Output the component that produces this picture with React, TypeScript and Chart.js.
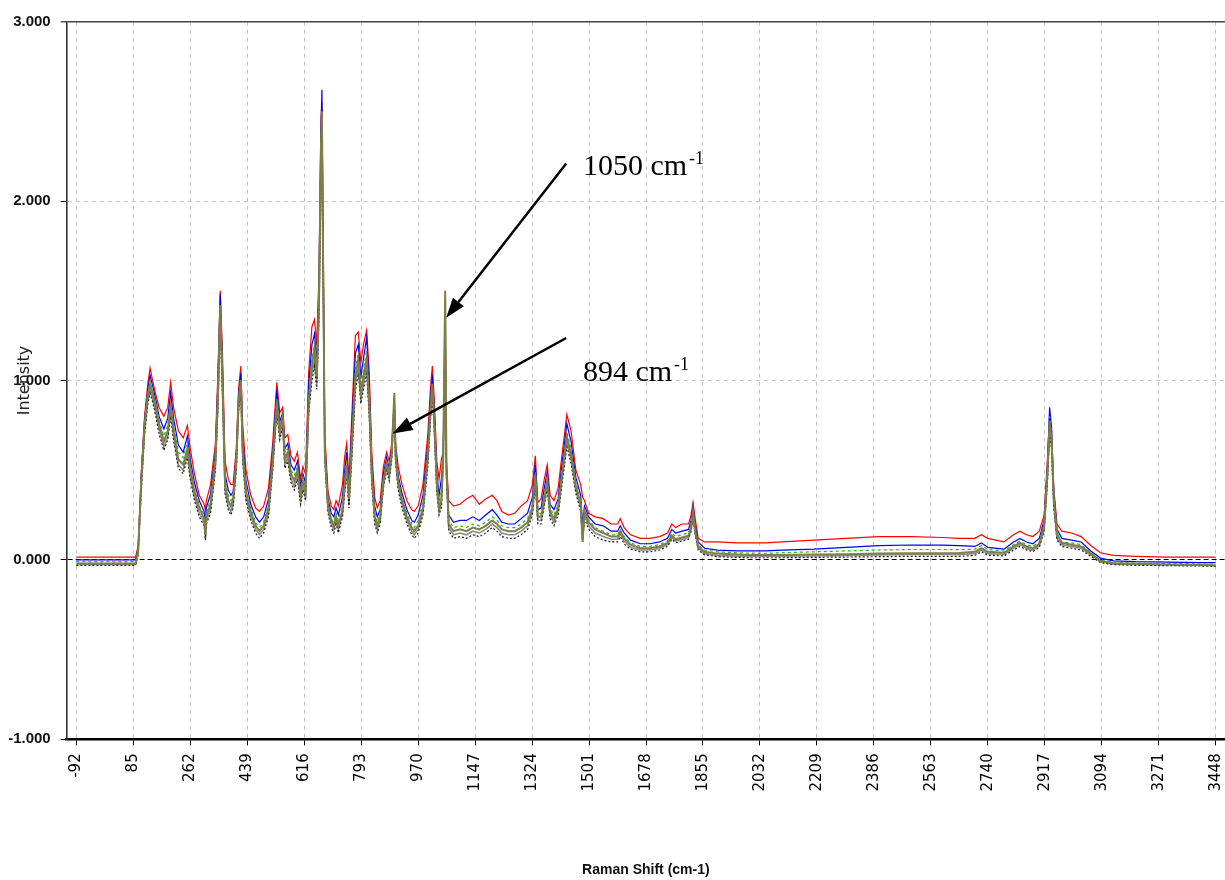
import React, { useEffect, useRef } from "react";
import { Chart, registerables } from "chart.js";

Chart.register(...registerables);

// Raman shift positions (cm-1) shared by all spectra
const SHIFT = [
  -92, 80, 92, 100, 110, 120, 130, 137, 145, 155,
  165, 180, 192, 201, 210, 225, 240, 253, 262, 275,
  290, 305, 309, 312, 325, 340, 348, 355, 362, 370,
  380, 388, 395, 405, 412, 419, 425, 435, 450, 465,
  477, 490, 505, 518, 531, 540, 549, 556, 565, 575,
  585, 595, 605, 612, 620, 630, 640, 648, 655, 662,
  668, 671, 675, 680, 690, 700, 708, 715, 722, 735,
  742, 748, 755, 765, 775, 784, 792, 800, 810, 818,
  826, 835, 843, 852, 862, 872, 880, 888, 896, 900,
  908, 920, 935, 950, 958, 970, 985, 1000, 1008, 1014,
  1020, 1028, 1035, 1042, 1048, 1054, 1058, 1065, 1080, 1100,
  1120, 1140, 1160, 1180, 1200, 1215, 1230, 1250, 1270, 1290,
  1310, 1325, 1334, 1342, 1352, 1362, 1371, 1380, 1392, 1405,
  1418, 1432, 1445, 1460, 1475, 1481, 1487, 1500, 1520, 1545,
  1570, 1590, 1598, 1610, 1630, 1660, 1690, 1720, 1745, 1758,
  1770, 1790, 1810, 1818, 1824, 1830, 1840, 1860, 1900, 1960,
  2000, 2050, 2100, 2200, 2300, 2400, 2500, 2600, 2650, 2700,
  2720, 2740, 2790, 2820, 2840, 2860, 2880, 2900, 2915, 2925,
  2932, 2938, 2945, 2955, 2970, 3000, 3030, 3060, 3090, 3130,
  3200, 3300, 3400, 3448,
];

const OLIVE = [
  -0.02, -0.02, -0.02, 0.05, 0.45, 0.75, 0.92, 0.98, 0.93, 0.85,
  0.76, 0.66, 0.72, 0.86, 0.72, 0.56, 0.53, 0.62, 0.5, 0.38,
  0.29, 0.23, 0.14, 0.24, 0.31, 0.55, 0.92, 1.42, 1.0, 0.42,
  0.33, 0.3, 0.34, 0.55, 0.88, 1.0, 0.6, 0.38, 0.27, 0.19,
  0.16, 0.19, 0.29, 0.55, 0.88, 0.72, 0.8, 0.56, 0.6, 0.48,
  0.44, 0.5, 0.36, 0.44, 0.38, 0.88, 1.08, 1.18, 1.02, 1.45,
  2.3, 2.5, 1.6, 0.6, 0.3, 0.22, 0.19, 0.24, 0.19, 0.28,
  0.43, 0.53, 0.34, 0.68, 1.02, 1.12, 0.94, 1.02, 1.12, 0.88,
  0.48, 0.24, 0.19, 0.24, 0.44, 0.54, 0.48, 0.6, 0.93, 0.58,
  0.43, 0.33, 0.24, 0.18, 0.16, 0.19, 0.29, 0.58, 0.83, 0.98,
  0.78, 0.43, 0.29, 0.33, 0.58, 1.5, 0.5, 0.2, 0.16, 0.17,
  0.16, 0.18, 0.17, 0.19, 0.22, 0.2, 0.17, 0.16, 0.16, 0.18,
  0.21, 0.29, 0.47, 0.24, 0.24, 0.34, 0.44, 0.27, 0.23, 0.29,
  0.49, 0.69, 0.59, 0.41, 0.31, 0.1, 0.27, 0.21, 0.17, 0.15,
  0.13, 0.13, 0.16, 0.12, 0.085, 0.065, 0.065, 0.075, 0.095, 0.135,
  0.115, 0.125, 0.135, 0.18, 0.27, 0.17, 0.075, 0.045, 0.035, 0.03,
  0.028, 0.027, 0.028, 0.03, 0.032, 0.036, 0.037, 0.037, 0.038, 0.045,
  0.065, 0.045, 0.04, 0.075, 0.095, 0.075, 0.065, 0.09, 0.19, 0.48,
  0.76, 0.68, 0.34, 0.14, 0.095, 0.085, 0.075, 0.035, -0.005, -0.018,
  -0.022, -0.025, -0.028, -0.03,
];

const RED = [
  0.015, 0.015, 0.015, 0.08, 0.5, 0.8, 0.98, 1.07, 1.0, 0.92,
  0.85, 0.8, 0.85, 0.99, 0.85, 0.72, 0.68, 0.75, 0.62, 0.48,
  0.36, 0.31, 0.28, 0.33, 0.42, 0.65, 1.05, 1.5, 1.15, 0.55,
  0.45, 0.42, 0.42, 0.62, 0.95, 1.08, 0.75, 0.5, 0.36, 0.29,
  0.27, 0.3, 0.4, 0.65, 0.99, 0.82, 0.85, 0.68, 0.7, 0.58,
  0.55, 0.6, 0.45, 0.52, 0.48, 1.05, 1.3, 1.34, 1.2, 1.6,
  2.45, 2.55, 1.8, 0.7, 0.38, 0.3, 0.28, 0.33, 0.3, 0.42,
  0.58, 0.65, 0.45, 0.85, 1.25, 1.27, 1.1, 1.2, 1.28, 1.05,
  0.6, 0.35, 0.29, 0.33, 0.52, 0.6, 0.55, 0.65, 0.88, 0.65,
  0.52, 0.42, 0.33, 0.28, 0.27, 0.3, 0.42, 0.7, 0.95, 1.08,
  0.9, 0.55, 0.45, 0.56, 0.6, 1.2, 0.55, 0.33, 0.3, 0.31,
  0.34, 0.36, 0.31, 0.34, 0.36, 0.33, 0.27, 0.25, 0.26, 0.3,
  0.33, 0.42, 0.58, 0.32, 0.34, 0.45, 0.53, 0.36, 0.33, 0.4,
  0.6, 0.81, 0.72, 0.5, 0.42, 0.35, 0.33, 0.26, 0.24, 0.23,
  0.2, 0.2, 0.23, 0.18, 0.14, 0.12, 0.12, 0.13, 0.15, 0.2,
  0.18, 0.2, 0.2, 0.25, 0.32, 0.24, 0.12, 0.1, 0.1, 0.095,
  0.095, 0.095, 0.1, 0.11, 0.12, 0.13, 0.13, 0.125, 0.12, 0.12,
  0.14, 0.12, 0.1, 0.14, 0.16, 0.14, 0.13, 0.16, 0.25, 0.55,
  0.8, 0.72, 0.4, 0.2, 0.16, 0.15, 0.13, 0.08, 0.04, 0.025,
  0.02, 0.015, 0.015, 0.015,
];

const BLUE = [
  0.0, 0.0, 0.0, 0.06, 0.48, 0.78, 0.95, 1.03, 0.97, 0.89,
  0.8, 0.73, 0.79, 0.93, 0.79, 0.64, 0.6, 0.69, 0.56, 0.43,
  0.33, 0.27, 0.2, 0.29, 0.37, 0.6, 1.0, 1.48, 1.08, 0.48,
  0.39, 0.36, 0.38, 0.58, 0.92, 1.04, 0.68, 0.44, 0.31, 0.24,
  0.21, 0.24, 0.34, 0.6, 0.95, 0.77, 0.82, 0.62, 0.65, 0.53,
  0.5, 0.55, 0.41, 0.48, 0.43, 0.98, 1.2, 1.26, 1.1, 1.55,
  2.4, 2.62, 1.7, 0.65, 0.34, 0.26, 0.24, 0.29, 0.25, 0.35,
  0.5, 0.6, 0.4, 0.78, 1.15, 1.2, 1.02, 1.12, 1.24, 0.97,
  0.54, 0.3, 0.24, 0.28, 0.48, 0.57, 0.51, 0.62, 0.9, 0.62,
  0.47, 0.37, 0.28, 0.22, 0.21, 0.25, 0.36, 0.64, 0.89, 1.03,
  0.84, 0.49, 0.36, 0.45, 0.59, 1.35, 0.52, 0.25, 0.21, 0.22,
  0.22, 0.24, 0.22, 0.25, 0.28, 0.25, 0.21, 0.2, 0.2, 0.23,
  0.26, 0.35, 0.53, 0.28, 0.29, 0.4, 0.49, 0.31, 0.28, 0.34,
  0.55, 0.76, 0.66, 0.46, 0.36, 0.2, 0.3, 0.24, 0.2, 0.19,
  0.16, 0.16, 0.19, 0.15, 0.11, 0.09, 0.09, 0.1, 0.12, 0.17,
  0.15, 0.16, 0.17, 0.22, 0.3, 0.2, 0.1, 0.065, 0.055, 0.05,
  0.05, 0.05, 0.055, 0.06, 0.07, 0.08, 0.083, 0.082, 0.08, 0.075,
  0.095, 0.07, 0.06, 0.1, 0.12, 0.1, 0.09, 0.12, 0.22, 0.52,
  0.85, 0.74, 0.38, 0.17, 0.12, 0.11, 0.1, 0.05, 0.01, -0.005,
  -0.01, -0.012, -0.015, -0.015,
];

const GREEN = [
  -0.01, -0.01, -0.01, 0.05, 0.46, 0.76, 0.93, 1.0, 0.95, 0.87,
  0.78, 0.69, 0.75, 0.88, 0.75, 0.6, 0.57, 0.66, 0.53, 0.4,
  0.3, 0.25, 0.17, 0.26, 0.34, 0.58, 0.95, 1.4, 1.04, 0.45,
  0.36, 0.33, 0.36, 0.56, 0.9, 1.01, 0.64, 0.41, 0.29, 0.21,
  0.18, 0.21, 0.31, 0.57, 0.9, 0.74, 0.8, 0.6, 0.62, 0.5,
  0.47, 0.52, 0.38, 0.46, 0.4, 0.92, 1.12, 1.2, 1.05, 1.5,
  2.35, 2.45, 1.65, 0.62, 0.31, 0.23, 0.21, 0.26, 0.22, 0.31,
  0.46, 0.56, 0.37, 0.72, 1.08, 1.15, 0.96, 1.06, 1.17, 0.92,
  0.5, 0.26, 0.21, 0.26, 0.46, 0.55, 0.49, 0.61, 0.9, 0.6,
  0.45, 0.35, 0.26, 0.2, 0.18, 0.22, 0.32, 0.6, 0.85, 0.99,
  0.8, 0.46, 0.32, 0.38, 0.58, 1.4, 0.5, 0.22, 0.18, 0.19,
  0.18, 0.2, 0.19, 0.21, 0.24, 0.22, 0.19, 0.18, 0.18, 0.2,
  0.23, 0.31, 0.49, 0.26, 0.26, 0.36, 0.46, 0.29, 0.25, 0.31,
  0.51, 0.71, 0.62, 0.43, 0.33, 0.14, 0.28, 0.22, 0.18, 0.16,
  0.14, 0.14, 0.17, 0.13, 0.095, 0.075, 0.075, 0.085, 0.105, 0.15,
  0.13, 0.14, 0.15, 0.2, 0.28, 0.18, 0.085, 0.055, 0.045, 0.04,
  0.038, 0.037, 0.04, 0.045, 0.05, 0.055, 0.058, 0.058, 0.057, 0.06,
  0.08, 0.058, 0.05, 0.085, 0.105, 0.085, 0.075, 0.1, 0.2, 0.5,
  0.8, 0.7, 0.36, 0.15, 0.1, 0.095, 0.085, 0.04, 0.0, -0.012,
  -0.018, -0.02, -0.022, -0.024,
];

const GRAY = [
  -0.025, -0.025, -0.025, 0.04, 0.42, 0.72, 0.89, 0.95, 0.9, 0.82,
  0.73, 0.63, 0.69, 0.83, 0.69, 0.53, 0.5, 0.59, 0.47, 0.35,
  0.26, 0.21, 0.12, 0.22, 0.28, 0.52, 0.88, 1.36, 0.96, 0.39,
  0.3, 0.27, 0.31, 0.52, 0.85, 0.96, 0.57, 0.35, 0.24, 0.17,
  0.14, 0.17, 0.26, 0.52, 0.84, 0.69, 0.76, 0.53, 0.57, 0.45,
  0.41, 0.47, 0.33, 0.41, 0.35, 0.84, 1.04, 1.12, 0.98, 1.4,
  2.2, 2.35, 1.55, 0.57, 0.28, 0.2, 0.17, 0.22, 0.17, 0.26,
  0.4, 0.5, 0.31, 0.64, 0.98, 1.08, 0.9, 0.98, 1.08, 0.84,
  0.45, 0.22, 0.17, 0.22, 0.42, 0.52, 0.46, 0.58, 0.9, 0.56,
  0.41, 0.31, 0.22, 0.16, 0.14, 0.17, 0.27, 0.55, 0.8, 0.95,
  0.75, 0.4, 0.27, 0.31, 0.56, 1.45, 0.48, 0.18, 0.14, 0.15,
  0.14, 0.16, 0.15, 0.17, 0.2, 0.18, 0.15, 0.14, 0.14, 0.16,
  0.19, 0.27, 0.44, 0.22, 0.22, 0.32, 0.42, 0.25, 0.21, 0.27,
  0.46, 0.66, 0.56, 0.39, 0.29, 0.12, 0.25, 0.19, 0.15, 0.13,
  0.115, 0.115, 0.145, 0.105, 0.07, 0.055, 0.055, 0.065, 0.085, 0.125,
  0.105, 0.115, 0.125, 0.17, 0.25, 0.16, 0.065, 0.035, 0.025, 0.02,
  0.02, 0.02, 0.02, 0.022, 0.025, 0.028, 0.03, 0.03, 0.03, 0.035,
  0.055, 0.035, 0.03, 0.065, 0.085, 0.065, 0.055, 0.08, 0.17, 0.45,
  0.72, 0.64, 0.31, 0.12, 0.085, 0.075, 0.065, 0.028, -0.01, -0.022,
  -0.026, -0.028, -0.03, -0.032,
];

const BLACK = [
  -0.03, -0.03, -0.03, 0.03, 0.4, 0.7, 0.87, 0.93, 0.88, 0.8,
  0.7, 0.61, 0.67, 0.8, 0.67, 0.51, 0.48, 0.57, 0.45, 0.33,
  0.24, 0.19, 0.11, 0.2, 0.26, 0.5, 0.85, 1.32, 0.93, 0.37,
  0.28, 0.25, 0.29, 0.5, 0.83, 0.93, 0.55, 0.33, 0.22, 0.15,
  0.12, 0.15, 0.24, 0.5, 0.82, 0.67, 0.74, 0.51, 0.55, 0.43,
  0.39, 0.45, 0.31, 0.39, 0.33, 0.82, 1.0, 1.08, 0.95, 1.35,
  2.1, 2.25, 1.5, 0.55, 0.26, 0.18, 0.15, 0.2, 0.15, 0.24,
  0.38, 0.48, 0.29, 0.6, 0.94, 1.04, 0.87, 0.95, 1.04, 0.8,
  0.42, 0.2, 0.15, 0.2, 0.4, 0.5, 0.44, 0.56, 0.88, 0.54,
  0.39, 0.29, 0.2, 0.14, 0.12, 0.15, 0.25, 0.52, 0.77, 0.92,
  0.72, 0.38, 0.25, 0.29, 0.54, 1.4, 0.46, 0.16, 0.12, 0.13,
  0.12, 0.14, 0.13, 0.15, 0.18, 0.16, 0.13, 0.12, 0.12, 0.14,
  0.17, 0.25, 0.42, 0.2, 0.2, 0.3, 0.4, 0.23, 0.19, 0.25,
  0.44, 0.63, 0.54, 0.37, 0.27, 0.1, 0.23, 0.17, 0.13, 0.11,
  0.1, 0.1, 0.13, 0.09, 0.06, 0.045, 0.045, 0.055, 0.075, 0.115,
  0.095, 0.105, 0.115, 0.16, 0.24, 0.15, 0.055, 0.028, 0.018, 0.014,
  0.012, 0.012, 0.012, 0.014, 0.016, 0.018, 0.02, 0.02, 0.02, 0.025,
  0.045, 0.026, 0.022, 0.055, 0.075, 0.056, 0.046, 0.07, 0.16, 0.42,
  0.7, 0.62, 0.29, 0.11, 0.075, 0.065, 0.055, 0.02, -0.015, -0.026,
  -0.03, -0.032, -0.034, -0.036,
];

// axis ticks
const X_TICKS = [
  -92, 85, 262, 439, 616, 793, 970, 1147, 1324, 1501, 1678,
  1855, 2032, 2209, 2386, 2563, 2740, 2917, 3094, 3271, 3448,
];
const Y_MIN = -1;
const Y_MAX = 3;
const X_MIN = -122;
const X_MAX = 3477;

// annotations (data coordinates)
const NOTE_TEXT = ["1050 cm", "894 cm"];
const NOTE_SUP = ["-1", "-1"];
const NOTE_X = [1482, 1482];
const NOTE_Y = [2.145, 0.997];
const ARROW_FROM_X = [1430, 1430];
const ARROW_FROM_Y = [2.21, 1.237];
const ARROW_TO_X = [1057, 891];
const ARROW_TO_Y = [1.35, 0.704];

const SERIES = [
  { name: "S1", values: OLIVE, color: "#7f7f45", width: 2, dash: [] as number[] },
  { name: "S2", values: BLACK, color: "#1e1e1e", width: 1.2, dash: [2, 2] },
  { name: "S3", values: GRAY, color: "#8a8a8a", width: 1.6, dash: [] as number[] },
  { name: "S4", values: GREEN, color: "#1fb81f", width: 1.2, dash: [3, 3] },
  { name: "S5", values: BLUE, color: "#0000ff", width: 1.2, dash: [] as number[] },
  { name: "S6", values: RED, color: "#ff0000", width: 1.2, dash: [] as number[] },
];

const notesPlugin = {
  id: "ramanNotes",
  afterDatasetsDraw(chart: any) {
    const { ctx, scales } = chart;
    const xs = scales.x;
    const ys = scales.y;
    ctx.save();
    ctx.strokeStyle = "#000";
    ctx.fillStyle = "#000";
    ctx.lineWidth = 2.5;
    for (let i = 0; i < ARROW_FROM_X.length; i++) {
      const x1 = xs.getPixelForValue(ARROW_FROM_X[i]);
      const y1 = ys.getPixelForValue(ARROW_FROM_Y[i]);
      const x2 = xs.getPixelForValue(ARROW_TO_X[i]);
      const y2 = ys.getPixelForValue(ARROW_TO_Y[i]);
      const ang = Math.atan2(y2 - y1, x2 - x1);
      const headLen = 20;
      const headHalf = 7;
      const bx = x2 - headLen * Math.cos(ang);
      const by = y2 - headLen * Math.sin(ang);
      ctx.beginPath();
      ctx.moveTo(x1, y1);
      ctx.lineTo(bx, by);
      ctx.stroke();
      ctx.beginPath();
      ctx.moveTo(x2, y2);
      ctx.lineTo(bx + headHalf * Math.sin(ang), by - headHalf * Math.cos(ang));
      ctx.lineTo(bx - headHalf * Math.sin(ang), by + headHalf * Math.cos(ang));
      ctx.closePath();
      ctx.fill();
    }
    ctx.textBaseline = "alphabetic";
    ctx.textAlign = "left";
    for (let i = 0; i < NOTE_TEXT.length; i++) {
      const px = xs.getPixelForValue(NOTE_X[i]);
      const py = ys.getPixelForValue(NOTE_Y[i]);
      ctx.font = '30px "Liberation Serif", "Times New Roman", serif';
      ctx.fillText(NOTE_TEXT[i], px, py);
      const w = ctx.measureText(NOTE_TEXT[i]).width;
      ctx.font = '18px "Liberation Serif", "Times New Roman", serif';
      ctx.fillText(NOTE_SUP[i], px + w + 2, py - 11);
    }
    ctx.restore();
  },
};

export default function App() {
  const canvasRef = useRef<HTMLCanvasElement | null>(null);

  useEffect(() => {
    const canvas = canvasRef.current;
    if (!canvas) return;
    const datasets = SERIES.map((s) => ({
      label: s.name,
      data: SHIFT.map((x, i) => ({ x, y: s.values[i] })),
      borderColor: s.color,
      backgroundColor: s.color,
      borderWidth: s.width,
      borderDash: s.dash,
      pointRadius: 0,
      tension: 0,
      fill: false,
    }));

    const chart = new Chart(canvas, {
      type: "line",
      data: { datasets },
      plugins: [notesPlugin],
      options: {
        animation: false,
        responsive: false,
        devicePixelRatio: 1,
        layout: { padding: { top: 21.7, left: 0, right: 0, bottom: 0 } },
        plugins: {
          legend: { display: false },
          tooltip: { enabled: false },
        },
        scales: {
          x: {
            type: "linear",
            min: X_MIN,
            max: X_MAX,
            afterBuildTicks: (scale: any) => {
              scale.ticks = X_TICKS.map((v) => ({ value: v }));
            },
            afterFit: (scale: any) => {
              scale.height = 140.7;
              scale.paddingLeft = 0;
              scale.paddingRight = 0;
            },
            ticks: {
              autoSkip: false,
              minRotation: 90,
              maxRotation: 90,
              padding: 8,
              color: "#000",
              font: { family: '"DejaVu Sans"', size: 15 },
              callback: (v: any) => String(v),
            },
            grid: {
              color: "#c4c4c4",
              lineWidth: 1,
              tickLength: 6,
              tickColor: "#000",
              tickWidth: 1,
              drawTicks: true,
            },
            border: { display: true, color: "#000", width: 2.5, dash: [4, 4] },
            title: {
              display: true,
              text: "Raman Shift (cm-1)",
              color: "#111",
              font: { family: '"Liberation Sans"', size: 14, weight: "bold" },
              padding: { top: 0, bottom: 1 },
            },
          },
          y: {
            type: "linear",
            min: Y_MIN,
            max: Y_MAX,
            afterFit: (scale: any) => {
              scale.width = 66.7;
            },
            ticks: {
              stepSize: 1,
              padding: 10,
              color: "#111",
              font: { family: '"Liberation Sans"', size: 15, weight: "bold" },
              callback: (v: any) => Number(v).toFixed(3),
            },
            grid: {
              color: (c: any) => {
                const v = c.tick ? c.tick.value : null;
                if (v === 0) return "#000";
                if (v === Y_MAX) return "#444";
                if (v === Y_MIN) return "rgba(0,0,0,0)";
                return "#c4c4c4";
              },
              lineWidth: (c: any) => (c.tick && c.tick.value === Y_MAX ? 1.6 : 1),
              tickLength: 6,
              tickColor: "#000",
              tickWidth: 1,
            },
            border: {
              display: true,
              color: "#333",
              width: 1.6,
              dash: (c: any) => {
                const v = c.tick ? c.tick.value : null;
                if (v === Y_MAX) return [];
                if (v === 0) return [5, 3];
                return [4, 4];
              },
            },
            title: {
              display: true,
              text: "Intensity",
              color: "#222",
              font: { family: '"DejaVu Sans"', size: 16 },
              padding: { top: 15, bottom: 0 },
            },
          },
        },
      },
    } as any);

    return () => {
      chart.destroy();
    };
  }, []);

  return (
    <div
      style={{
        position: "absolute",
        left: 0,
        top: 0,
        width: 1225,
        height: 880,
        background: "#fff",
      }}
    >
      <canvas ref={canvasRef} width={1225} height={880} style={{ display: "block" }} />
    </div>
  );
}
